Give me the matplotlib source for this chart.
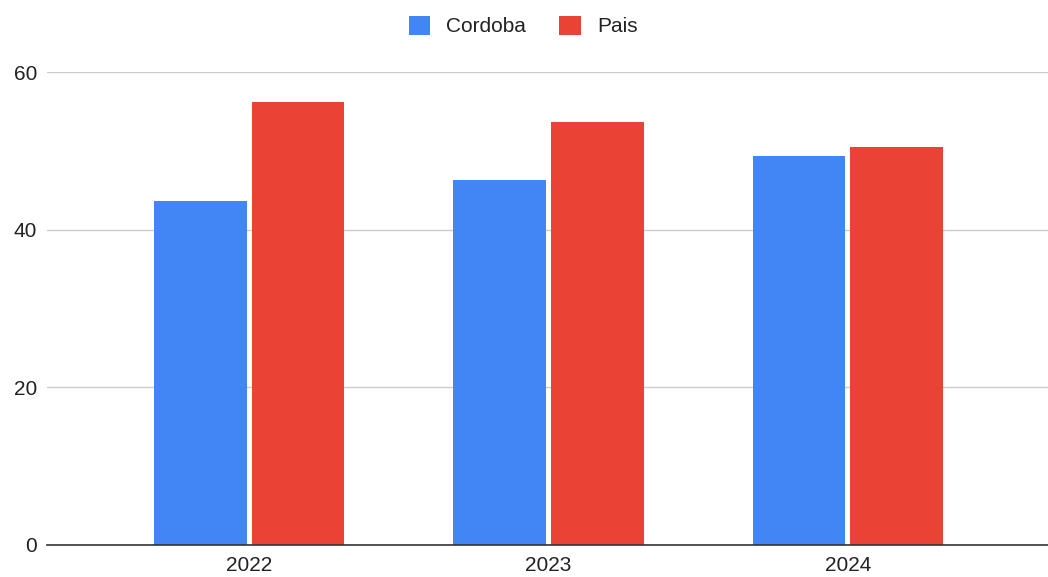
import numpy as np
import matplotlib.pyplot as plt

plt.rcParams['font.family'] = ['Liberation Sans', 'DejaVu Sans']

years = ['2022', '2023', '2024']
cordoba = [43.6, 46.3, 49.3]
pais = [56.2, 53.7, 50.5]

x = np.arange(len(years))
width = 0.31

fig = plt.figure(figsize=(10.48, 5.77), dpi=100, facecolor='white')
ax = fig.add_axes([47 / 1048, 1 - 545 / 577, 1 - 47 / 1048, (545 - 72) / 577])

ax.bar(x - 0.163, cordoba, width, color='#4285f4', label='Cordoba', zorder=3)
ax.bar(x + 0.163, pais, width, color='#ea4335', label='Pais', zorder=3)

ax.set_xlim(-0.676, 2.669)
ax.set_ylim(0, 60)
ax.set_yticks([0, 20, 40, 60])
ax.set_xticks(x)
ax.set_xticklabels(years)
ax.grid(axis='y', color='#cccccc', linewidth=1, zorder=0)
ax.tick_params(axis='both', length=0, labelsize=15, colors='#222222')
ax.tick_params(axis='y', pad=7)
ax.tick_params(axis='x', pad=8)
for s in ['top', 'right', 'left']:
    ax.spines[s].set_visible(False)
ax.spines['bottom'].set_color('#333333')
ax.spines['bottom'].set_linewidth(1.2)
ax.spines['bottom'].set_zorder(4)

fig.legend(loc='center', bbox_to_anchor=(523 / 1048, 1 - 26 / 577), ncol=2, frameon=False,
           fontsize=15, handlelength=1.05, handleheight=1.05, columnspacing=1.6, handletextpad=0.75,
           labelcolor='#222222')

fig.savefig('out.png', dpi=100, facecolor='white')
